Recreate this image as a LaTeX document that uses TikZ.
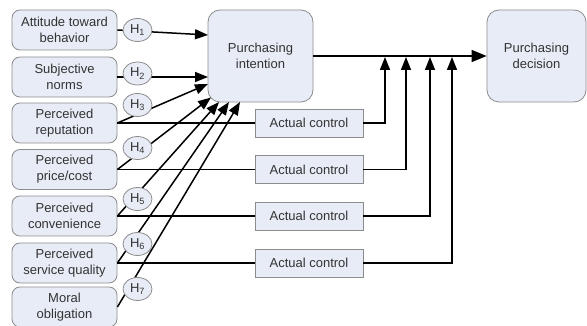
\documentclass[tikz,border=0pt]{standalone}
\usepackage{fontspec}
\setmainfont{Liberation Sans}
\usetikzlibrary{arrows.meta, shapes.geometric}
\definecolor{boxfill}{HTML}{E8ECF6}
\definecolor{boxline}{HTML}{8C8C8C}
\definecolor{labeltext}{HTML}{333333}

\tikzset{
  factor/.style={draw=boxline, fill=boxfill, rounded corners=8pt, line width=0.8pt,
    minimum width=105pt, minimum height=40pt, align=center, text=labeltext,
    font=\fontsize{13}{16}\selectfont},
  stage/.style={factor, rounded corners=12pt, minimum height=92pt},
  ctrl/.style={factor, rounded corners=0pt, minimum width=108pt, minimum height=28pt},
  hyp/.style={ellipse, draw=boxline, fill=boxfill, line width=0.8pt, inner sep=0pt,
    minimum width=29pt, minimum height=23pt, text=labeltext,
    font=\fontsize{13}{16}\selectfont},
  link/.style={line width=1.5pt},
  arr/.style={link, -{Triangle[length=13pt,width=10pt]}},
}

\begin{document}
\begin{tikzpicture}[x=1pt, y=-1pt]
  \useasboundingbox (0,0) rectangle (587,326);

  % Factors on the left
  \foreach \n/\y/\txt in {1/30/{Attitude toward\\behavior}, 2/77/{Subjective\\norms},
      3/123/{Perceived\\reputation}, 4/169.5/{Perceived\\price/cost},
      5/216/{Perceived\\convenience}, 6/263/{Perceived\\service quality},
      7/307/{Moral\\obligation}}
    \node[factor] (f\n) at (64.5,\y) {\txt};

  % Intention and decision
  \node[stage] (pi) at (260.5,56) {Purchasing\\intention};
  \node[stage, minimum width=99pt] (pd) at (536.5,56) {Purchasing\\decision};

  % Actual control boxes
  \foreach \n/\y in {1/123, 2/169.5, 3/216, 4/263}
    \node[ctrl] (ac\n) at (309,\y) {Actual control};

  % Arrow tips on the intention box
  \coordinate (t1) at (208,35);
  \coordinate (t2) at (208,77);
  \coordinate (t3) at (208,84);
  \coordinate (t4) at (211,97.5);
  \coordinate (t5) at (219,102);
  \coordinate (t6) at (229,102);
  \coordinate (t7) at (240,102);

  % Hypothesis links
  \foreach \n in {1,...,7}
    \draw[arr] (f\n.east) -- (t\n);

  % Hypothesis labels
  \foreach \n/\y in {1/30, 2/73.5, 3/105, 4/148, 5/199, 6/244, 7/289}
    \node[hyp] (h\n) at (137.5,\y) {H\textsubscript{\n}};

  % Intention to decision
  \draw[link, -{Triangle[length=15pt,width=12pt]}] (pi) -- (pd);

  % Factors to actual control
  \foreach \n/\m in {3/1, 4/2, 5/3, 6/4}
    \draw[link] (f\n) -- (ac\m);

  % Actual control joining the main path
  \coordinate (j1) at (385,57);
  \coordinate (j2) at (406,57);
  \coordinate (j3) at (430,57);
  \coordinate (j4) at (452,57);
  \foreach \n in {1,...,4}
    \draw[arr] (ac\n) -| (j\n);
\end{tikzpicture}
\end{document}
